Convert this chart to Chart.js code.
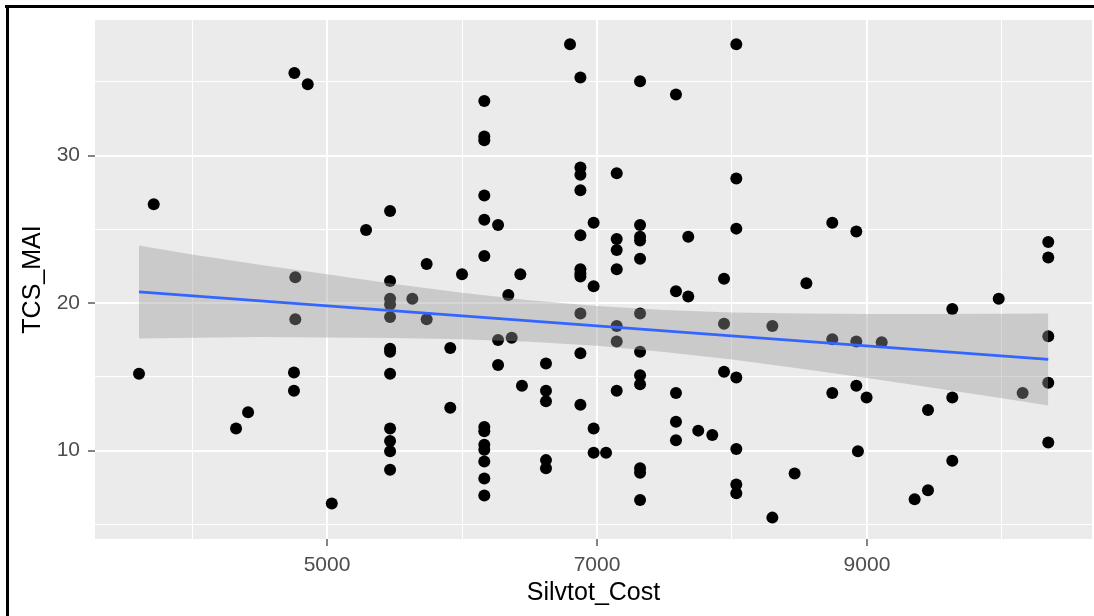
<!DOCTYPE html>
<html lang="en">
<head>
<meta charset="UTF-8">
<title>TCS_MAI vs Silvtot_Cost</title>
<script src="https://cdn.jsdelivr.net/npm/chart.js"></script>
<style>
  html, body { margin: 0; padding: 0; background: #fff; overflow: hidden; }
  canvas { display: block; }
</style>
</head>
<body>
<canvas id="chart" width="1094" height="616"></canvas>
<script>
// observed points, grouped roughly by cost column
const silvtotCost = [
  3607, 3716, 4326, 4415, 4758, 4857, 4765, 4765, 4755, 4755, 5035, 5289,
  5467, 5467, 5467, 5467, 5467, 5467, 5467, 5467, 5467, 5467, 5467, 5467,
  5632, 5738, 5738, 5913, 5913, 6000,
  6165, 6165, 6165, 6165, 6165, 6165, 6165, 6165, 6165, 6165, 6165, 6165, 6165,
  6267, 6267, 6267, 6343, 6368, 6432, 6444, 6622, 6622, 6622, 6622, 6622,
  6800, 6877, 6877, 6877, 6877, 6877, 6877, 6877, 6877, 6877, 6877, 6877,
  6975, 6975, 6975, 6975, 7067, 7146, 7146, 7146, 7146, 7146, 7146, 7146,
  7319, 7319, 7319, 7319, 7319, 7319, 7319, 7319, 7319, 7319, 7319, 7319,
  7585, 7585, 7585, 7585, 7585, 7676, 7676, 7750, 7854,
  7941, 7941, 7941, 8032, 8032, 8032, 8032, 8032, 8032, 8032,
  8299, 8299, 8464, 8551, 8743, 8743, 8743, 8921, 8921, 8921, 8933, 8997, 9109,
  9353, 9452, 9452, 9632, 9632, 9632, 9976, 10153, 10343, 10343, 10343, 10343, 10343
];
const tcsMai = [
  15.2, 26.7, 11.5, 12.6, 35.6, 34.85, 21.75, 18.9, 15.3, 14.05, 6.4, 24.95,
  26.25, 21.5, 20.3, 19.9, 19.05, 16.9, 16.7, 15.2, 11.5, 10.65, 9.95, 8.7,
  20.3, 22.65, 18.9, 16.95, 12.9, 21.95,
  33.7, 31.3, 31.05, 27.3, 25.65, 23.2, 11.6, 11.3, 10.4, 10.05, 9.25, 8.1, 6.95,
  25.3, 17.5, 15.8, 20.55, 17.65, 21.95, 14.4, 15.9, 14.05, 13.35, 9.35, 8.8,
  37.55, 35.3, 29.2, 28.7, 27.65, 24.6, 22.3, 22.0, 21.8, 19.3, 16.6, 13.1,
  25.45, 21.15, 11.5, 9.85, 9.85, 28.8, 24.35, 23.6, 22.3, 18.45, 17.4, 14.05,
  35.05, 25.3, 24.5, 24.25, 23.0, 19.3, 16.7, 15.1, 14.5, 8.8, 8.5, 6.65,
  34.15, 20.8, 13.9, 11.95, 10.7, 24.5, 20.45, 11.35, 11.05,
  21.65, 18.6, 15.35, 37.55, 28.45, 25.05, 14.95, 10.1, 7.7, 7.1,
  18.45, 5.45, 8.45, 21.35, 25.45, 17.55, 13.9, 24.85, 17.4, 14.4, 9.95, 13.6, 17.35,
  6.7, 7.3, 12.75, 19.6, 13.6, 9.3, 20.3, 13.9, 24.15, 23.1, 17.75, 14.6, 10.55
];

// lm fit and its confidence band
const fitX = [3607, 10343];
const fitY = [20.76, 16.18];
const bandX = [3607, 4000, 4500, 5000, 5500, 6000, 6500, 7000, 7500, 8000, 8500, 9000, 9500, 10000, 10343];
const bandLow = [17.6, 17.65, 17.7, 17.67, 17.64, 17.55, 17.38, 17.1, 16.69, 16.17, 15.57, 14.92, 14.24, 13.54, 13.06];
const bandHigh = [23.9, 23.3, 22.6, 21.95, 21.3, 20.7, 20.2, 19.8, 19.53, 19.37, 19.29, 19.26, 19.26, 19.28, 19.3];

// grid positions and which of them carry labels
const xGrid = [4000, 5000, 6000, 7000, 8000, 9000, 10000];
const xLabels = [5000, 7000, 9000];
const yGrid = [5, 10, 15, 20, 25, 30, 35];
const yLabels = [10, 20, 30];

const FONT = '"Liberation Sans", Arial, sans-serif';
const toXY = (xs, ys) => xs.map((x, i) => ({ x: x, y: ys[i] }));

const panel = {
  id: 'panel',
  beforeDraw(chart) {
    const { ctx, chartArea: a } = chart;
    ctx.save();
    ctx.fillStyle = '#FFFFFF';
    ctx.fillRect(0, 0, chart.width, chart.height);
    ctx.fillStyle = '#EBEBEB';
    ctx.fillRect(a.left, a.top, a.right - a.left, a.bottom - a.top);
    ctx.restore();
  },
  afterDraw(chart) {
    const ctx = chart.ctx;
    ctx.save();
    ctx.fillStyle = '#000';
    ctx.fillRect(5, 5, chart.width - 5, 3);
    ctx.fillRect(6, 5, 3, chart.height - 5);
    ctx.restore();
  }
};

const gridFor = labels => ({
  color: '#FFFFFF',
  lineWidth: c => (c.tick && labels.includes(c.tick.value)) ? 2 : 1,
  tickColor: c => (c.tick && labels.includes(c.tick.value)) ? '#333333' : 'rgba(0,0,0,0)',
  tickWidth: 1.2,
  tickLength: 7,
  drawTicks: true
});

new Chart(document.getElementById('chart'), {
  type: 'scatter',
  data: {
    datasets: [
      {
        type: 'line',
        data: toXY(fitX, fitY),
        borderColor: '#3366FF',
        borderWidth: 2.6,
        pointRadius: 0,
        fill: false,
        order: 1
      },
      {
        type: 'line',
        data: toXY(bandX, bandLow),
        borderWidth: 0,
        borderColor: 'rgba(0,0,0,0)',
        pointRadius: 0,
        fill: false,
        order: 2
      },
      {
        type: 'line',
        data: toXY(bandX, bandHigh),
        borderWidth: 0,
        borderColor: 'rgba(0,0,0,0)',
        backgroundColor: 'rgba(153,153,153,0.4)',
        pointRadius: 0,
        fill: '-1',
        order: 2
      },
      {
        data: toXY(silvtotCost, tcsMai),
        backgroundColor: '#000000',
        borderWidth: 0,
        pointRadius: 6,
        order: 3
      }
    ]
  },
  options: {
    responsive: false,
    animation: false,
    layout: { autoPadding: false, padding: { left: 0, right: 2, top: 20, bottom: 0 } },
    plugins: { legend: { display: false }, tooltip: { enabled: false } },
    scales: {
      x: {
        type: 'linear',
        min: 3281,
        max: 10667,
        afterBuildTicks: s => { s.ticks = xGrid.map(v => ({ value: v })); },
        afterFit: s => { s.height = 77; s.paddingLeft = 0; s.paddingRight = 0; },
        ticks: {
          autoSkip: false,
          maxRotation: 0,
          padding: 7,
          color: '#4D4D4D',
          font: { family: FONT, size: 21 },
          callback: v => xLabels.includes(v) ? String(v) : ''
        },
        grid: gridFor(xLabels),
        border: { display: false },
        title: {
          display: true,
          text: 'Silvtot_Cost',
          color: '#000000',
          font: { family: FONT, size: 25, lineHeight: 1 },
          padding: { top: 0, bottom: 10 }
        }
      },
      y: {
        type: 'linear',
        min: 4.0,
        max: 39.2,
        afterBuildTicks: s => { s.ticks = yGrid.map(v => ({ value: v })); },
        afterFit: s => { s.width = 95; s.paddingTop = 0; s.paddingBottom = 0; },
        ticks: {
          autoSkip: false,
          padding: 8,
          color: '#4D4D4D',
          font: { family: FONT, size: 21 },
          callback: v => yLabels.includes(v) ? String(v) : ''
        },
        grid: gridFor(yLabels),
        border: { display: false },
        title: {
          display: true,
          text: 'TCS_MAI',
          color: '#000000',
          font: { family: FONT, size: 25, lineHeight: 1 },
          padding: { top: 21, bottom: 0 }
        }
      }
    }
  },
  plugins: [panel]
});
</script>
</body>
</html>
